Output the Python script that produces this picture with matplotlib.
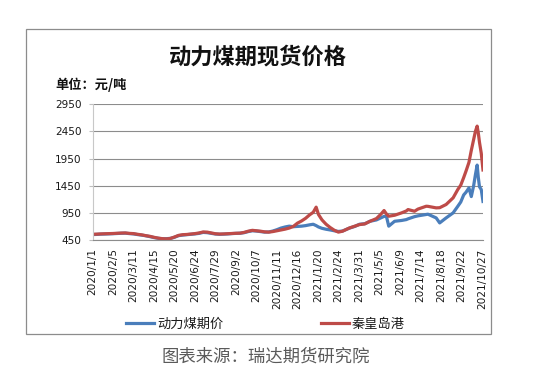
import matplotlib
matplotlib.use("Agg")
import matplotlib.pyplot as plt
import matplotlib.patches as mpatches
import pandas as pd

dates = [
    "2020-01-01","2020-01-08","2020-01-15","2020-01-22","2020-02-05","2020-02-19","2020-02-26",
    "2020-03-04","2020-03-11","2020-03-18","2020-03-25","2020-04-01","2020-04-08","2020-04-15",
    "2020-04-22","2020-04-29","2020-05-06","2020-05-13","2020-05-20","2020-05-27","2020-06-03",
    "2020-06-10","2020-06-17","2020-06-24","2020-07-01","2020-07-08","2020-07-15","2020-07-22",
    "2020-07-29","2020-08-05","2020-08-12","2020-08-19","2020-08-26","2020-09-02","2020-09-09",
    "2020-09-16","2020-09-23","2020-09-30","2020-10-07","2020-10-14","2020-10-21","2020-10-28",
    "2020-11-04","2020-11-11","2020-11-18","2020-11-25","2020-12-02","2020-12-09","2020-12-16",
    "2020-12-23","2020-12-30","2021-01-06","2021-01-12","2021-01-17","2021-01-21","2021-01-27",
    "2021-02-03","2021-02-10","2021-02-17",
    "2021-02-24","2021-03-03","2021-03-15","2021-03-24","2021-04-01","2021-04-10","2021-04-19",
    "2021-04-30","2021-05-08","2021-05-13","2021-05-17","2021-05-21","2021-05-31","2021-06-12",
    "2021-06-20","2021-06-23","2021-07-04","2021-07-10","2021-07-24","2021-07-27","2021-08-10",
    "2021-08-16","2021-08-27","2021-09-08","2021-09-16","2021-09-21","2021-09-26","2021-09-30",
    "2021-10-05","2021-10-09","2021-10-13","2021-10-16","2021-10-19","2021-10-21","2021-10-23",
    "2021-10-26","2021-10-29",
]

port_price = [  # 秦皇岛港
    555, 558, 562, 565, 570, 578, 580,
    572, 568, 555, 545, 530, 518, 500,
    485, 475, 470, 478, 505, 535, 548,
    552, 560, 568, 580, 598, 595, 580,
    565, 560, 562, 566, 570, 574, 576,
    590, 612, 628, 620, 612, 600, 595,
    605, 620, 635, 650, 670, 700, 760,
    800, 850, 915, 960, 1055, 920, 820,
    740, 680, 630,
    595, 612, 672, 705, 734, 746, 795,
    845, 930, 993, 930, 888, 906, 950,
    985, 1011, 980, 1020, 1072, 1070, 1042,
    1045, 1104, 1227, 1381, 1460, 1600, 1720,
    1880, 2100, 2300, 2450, 2548, 2420, 2250,
    2050, 1740,
]

futures_price = [  # 动力煤期价
    550, 553, 558, 560, 566, 574, 576,
    568, 562, 550, 540, 528, 512, 495,
    482, 472, 474, 480, 500, 530, 540,
    548, 555, 562, 572, 590, 585, 572,
    560, 555, 558, 562, 568, 572, 575,
    585, 605, 620, 615, 605, 595, 598,
    615, 640, 670, 690, 705, 695, 700,
    705, 715, 730, 740, 715, 690, 665,
    648, 635, 620,
    608, 615, 670, 700, 740, 750, 795,
    820, 860, 885, 888, 705, 795, 810,
    826, 840, 880, 895, 920, 925, 857,
    765, 857, 950, 1072, 1150, 1280, 1330,
    1410, 1250, 1450, 1650, 1830, 1600, 1431,
    1380, 1160,
]

series_names = ["动力煤期价", "秦皇岛港"]
y_ticks = [450, 950, 1450, 1950, 2450, 2950]
x_tick_dates = pd.date_range("2020-01-01", periods=20, freq="35D")

title = "动力煤期现货价格"
unit = "单位：元/吨"
source = "图表来源：瑞达期货研究院"

W, H = 538, 375
fig = plt.figure(figsize=(W / 100, H / 100), dpi=100)
fig.patch.set_facecolor("white")

cjk = ["Noto Sans CJK SC", "DejaVu Sans"]

# outer chart frame
frame = mpatches.Rectangle((26 / W, 1 - 334 / H), 465 / W, 305 / H,
                           transform=fig.transFigure, fill=False,
                           edgecolor="#8c8c8c", linewidth=0.9)
fig.patches.append(frame)

ax = fig.add_axes([92.5 / W, 1 - 240 / H, (483 - 92.5) / W, (240 - 104.3) / H])
x = pd.to_datetime(dates)
l1, = ax.plot(x, futures_price, color="#4a7ebb", linewidth=2.3, solid_joinstyle="round")
l2, = ax.plot(x, port_price, color="#be4b48", linewidth=2.3, solid_joinstyle="round")

ax.set_ylim(450, 2950)
ax.set_yticks(y_ticks)
ax.set_yticklabels([str(v) for v in y_ticks], fontsize=7.6, family="DejaVu Sans", color="#1a1a1a")
ax.set_xlim(pd.Timestamp("2020-01-01"), pd.Timestamp("2021-10-29"))
ax.set_xticks(x_tick_dates)
ax.set_xticklabels([f"{d.year}/{d.month}/{d.day}" for d in x_tick_dates],
                   rotation=90, fontsize=7.6, family="DejaVu Sans", color="#1a1a1a")
ax.tick_params(axis="x", length=0, pad=6)
ax.tick_params(axis="y", length=3, width=0.8, color="#bfbfbf", pad=5)
ax.grid(axis="y", color="#8c8c8c", linewidth=0.8)
ax.set_axisbelow(True)
for s in ["top", "right"]:
    ax.spines[s].set_visible(False)
ax.spines["left"].set_color("#c8c8c8")
ax.spines["left"].set_linewidth(0.8)
ax.spines["bottom"].set_color("#8c8c8c")
ax.spines["bottom"].set_linewidth(0.8)

fig.text(258 / W, 1 - 57 / H, title, ha="center", va="center",
         fontsize=16, fontweight="bold", family=cjk, color="#111111")
fig.text(55 / W, 1 - 85 / H, unit, ha="left", va="center",
         fontsize=9.5, fontweight="bold", family=cjk, color="#111111")

leg = fig.legend([l1, l2], series_names, loc="center left",
                 bbox_to_anchor=(126 / W, 1 - 324 / H), ncol=2, frameon=False,
                 prop={"family": cjk, "size": 9.5}, handlelength=2.1,
                 handletextpad=0.25, columnspacing=7.4, borderpad=0, borderaxespad=0)
for t in leg.get_texts():
    t.set_color("#1a1a1a")

fig.text(266 / W, 1 - 357 / H, source, ha="center", va="center",
         fontsize=12.5, family=cjk, color="#5a5a5a")

fig.savefig("out.png", dpi=100, facecolor="white")
